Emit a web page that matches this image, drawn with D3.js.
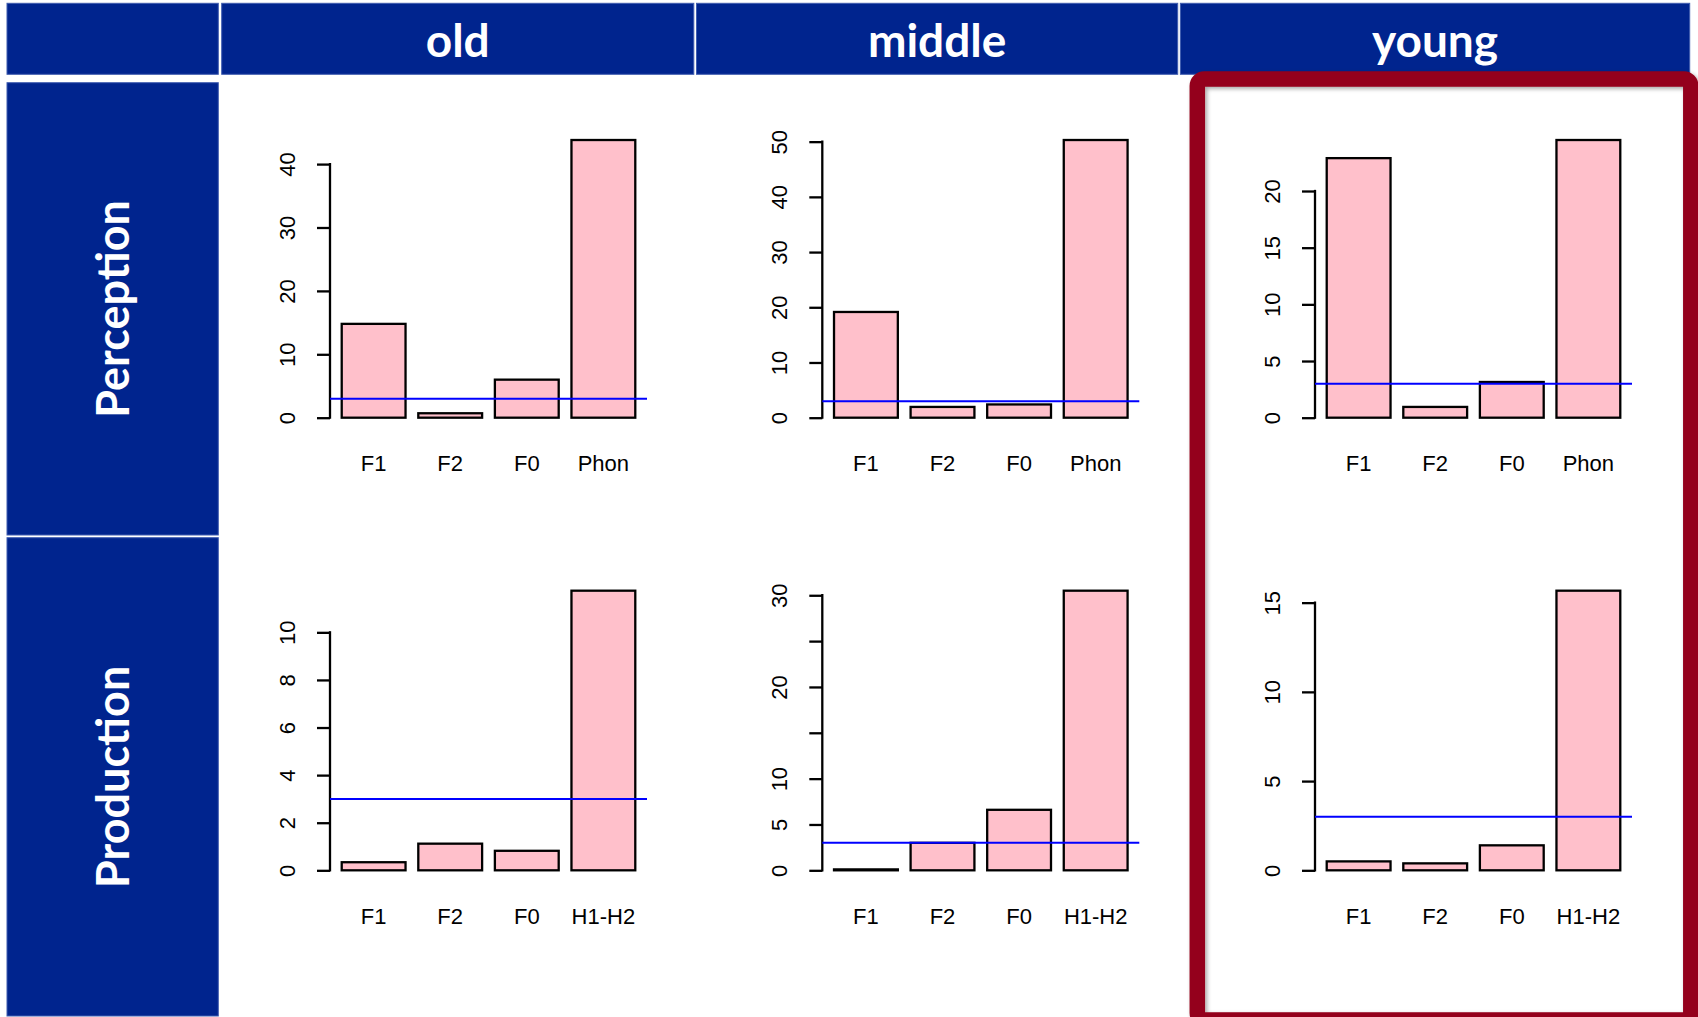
<!DOCTYPE html>
<html>
<head>
<meta charset="utf-8">
<script src="https://cdn.jsdelivr.net/npm/d3@7"></script>
<style>
  html, body { margin: 0; padding: 0; background: #ffffff; }
  svg { display: block; }
</style>
</head>
<body>
<svg id="chart" width="1698" height="1017"></svg>
<script>
// Age groups (columns) and tasks (rows)
const ageGroups = ["old", "middle", "young"];
const tasks = ["Perception", "Production"];

// Acoustic cues per task
const perceptionCues = ["F1", "F2", "F0", "Phon"];
const productionCues = ["F1", "F2", "F0", "H1-H2"];

// Bar heights per panel
const perceptionOld = [14.8, 0.7, 6.0, 43.8];
const perceptionMiddle = [19.15, 1.95, 2.4, 50.3];
const perceptionYoung = [22.9, 0.95, 3.15, 24.5];
const productionOld = [0.34, 1.12, 0.82, 11.75];
const productionMiddle = [0.1, 3.0, 6.6, 30.5];
const productionYoung = [0.5, 0.39, 1.4, 15.67];

// Reference line drawn across every panel
const threshold = 3;

// Y-axis ticks and the subset of ticks that carry a label
const ticksPerceptionOld = [0, 10, 20, 30, 40];
const ticksPerceptionMiddle = [0, 10, 20, 30, 40, 50];
const ticksPerceptionYoung = [0, 5, 10, 15, 20];
const ticksProductionOld = [0, 2, 4, 6, 8, 10];
const ticksProductionMiddle = [0, 5, 10, 15, 20, 25, 30];
const labelsProductionMiddle = [0, 5, 10, 20, 30];
const ticksProductionYoung = [0, 5, 10, 15];

const panels = [
  { row: 0, col: 0, cues: perceptionCues, values: perceptionOld, ticks: ticksPerceptionOld },
  { row: 0, col: 1, cues: perceptionCues, values: perceptionMiddle, ticks: ticksPerceptionMiddle },
  { row: 0, col: 2, cues: perceptionCues, values: perceptionYoung, ticks: ticksPerceptionYoung },
  { row: 1, col: 0, cues: productionCues, values: productionOld, ticks: ticksProductionOld },
  { row: 1, col: 1, cues: productionCues, values: productionMiddle, ticks: ticksProductionMiddle, labels: labelsProductionMiddle },
  { row: 1, col: 2, cues: productionCues, values: productionYoung, ticks: ticksProductionYoung }
];

// ---- layout ----
const navy = "#00248e";
const navyEdge = "#3f5cb0";
const frameRed = "#94001b";
const headerY = [3.3, 74.3];
const headerCols = [[7, 218.3], [221.7, 693.8], [696.5, 1177.7], [1180.4, 1689.7]];
const rowLabelX = [7, 218.3];
const rowCells = [[82.7, 535], [537.7, 1016]];
const panelAxisX = [330, 822.3, 1315];
const panelWidth = 317;
const panelRegion = [{ top: 128.9, bottom: 428.8 }, { top: 579.5, bottom: 881.5 }];
const labelFont = "'Liberation Sans', Arial, sans-serif";
const titleFont = "Lato, 'Open Sans', sans-serif";

const svg = d3.select("#chart");

const defs = svg.append("defs");
const shadow = defs.append("filter").attr("id", "frameShadow")
  .attr("x", "-5%").attr("y", "-5%").attr("width", "110%").attr("height", "110%");
shadow.append("feDropShadow")
  .attr("dx", 2).attr("dy", 2).attr("stdDeviation", 2.2)
  .attr("flood-color", "#000").attr("flood-opacity", 0.35);

// Column header strip
const headerG = svg.append("g");
headerG.selectAll("rect").data(headerCols).join("rect")
  .attr("x", d => d[0]).attr("y", headerY[0])
  .attr("width", d => d[1] - d[0]).attr("height", headerY[1] - headerY[0])
  .attr("fill", navy).attr("stroke", navyEdge).attr("stroke-width", 1);
headerG.selectAll("text").data(ageGroups).join("text")
  .attr("x", (d, i) => (headerCols[i + 1][0] + headerCols[i + 1][1]) / 2)
  .attr("y", 57.3)
  .attr("text-anchor", "middle")
  .attr("fill", "#ffffff")
  .attr("font-family", titleFont).attr("font-weight", 700).attr("font-size", 46)
  .text(d => d);

// Row label strip
const rowG = svg.append("g");
rowG.selectAll("rect").data(rowCells).join("rect")
  .attr("x", rowLabelX[0]).attr("y", d => d[0])
  .attr("width", rowLabelX[1] - rowLabelX[0]).attr("height", d => d[1] - d[0])
  .attr("fill", navy).attr("stroke", navyEdge).attr("stroke-width", 1);
rowG.selectAll("text").data(tasks).join("text")
  .attr("transform", (d, i) => `translate(129,${(rowCells[i][0] + rowCells[i][1]) / 2}) rotate(-90)`)
  .attr("text-anchor", "middle")
  .attr("fill", "#ffffff")
  .attr("font-family", titleFont).attr("font-weight", 700).attr("font-size", 45)
  .text(d => d);

// Bar panels
panels.forEach(p => {
  const ax = panelAxisX[p.col];
  const reg = panelRegion[p.row];
  const maxVal = d3.max(p.values);

  const x = d3.scaleBand().domain(p.cues)
    .range([ax, ax + panelWidth])
    .paddingInner(1 / 6).paddingOuter(0.153);
  const y = d3.scaleLinear()
    .domain([-0.04 * maxVal, 1.04 * maxVal])
    .range([reg.bottom, reg.top]);

  const g = svg.append("g");

  g.selectAll("rect.bar").data(p.values).join("rect")
    .attr("class", "bar")
    .attr("x", (d, i) => x(p.cues[i]))
    .attr("width", x.bandwidth())
    .attr("y", d => y(d))
    .attr("height", d => y(0) - y(d))
    .attr("fill", "#ffc0cb")
    .attr("stroke", "#000").attr("stroke-width", 2.3);

  // y axis: line spans first to last tick only
  const labelSet = new Set(p.labels || p.ticks);
  const yAxis = d3.axisLeft(y)
    .tickValues(p.ticks)
    .tickSize(13)
    .tickFormat(d => labelSet.has(d) ? String(d) : "");
  const ag = g.append("g").attr("transform", `translate(${ax},0)`).call(yAxis);
  ag.select(".domain").remove();
  ag.selectAll(".tick line").attr("stroke", "#000").attr("stroke-width", 2.3);
  ag.selectAll(".tick text")
    .attr("transform", "rotate(-90)")
    .attr("x", 0).attr("y", -35).attr("dy", 0)
    .attr("text-anchor", "middle")
    .attr("fill", "#000")
    .attr("font-family", labelFont).attr("font-size", 22);
  ag.append("line")
    .attr("x1", 0).attr("x2", 0)
    .attr("y1", y(p.ticks[0])).attr("y2", y(p.ticks[p.ticks.length - 1]))
    .attr("stroke", "#000").attr("stroke-width", 2.3).attr("stroke-linecap", "square");

  // category labels under the bars
  const xAxis = d3.axisBottom(x).tickSize(0);
  const xg = g.append("g").attr("transform", `translate(0,${reg.bottom})`).call(xAxis);
  xg.select(".domain").remove();
  xg.selectAll(".tick text")
    .attr("y", 42).attr("dy", 0)
    .attr("fill", "#000")
    .attr("font-family", labelFont).attr("font-size", 22);

  // threshold line across the plot region
  g.append("line")
    .attr("x1", ax).attr("x2", ax + panelWidth)
    .attr("y1", y(threshold)).attr("y2", y(threshold))
    .attr("stroke", "#0000ff").attr("stroke-width", 2);
});

// Highlight frame around the "young" column
svg.append("rect")
  .attr("x", 1197.3).attr("y", 79)
  .attr("width", 493.5).attr("height", 941)
  .attr("rx", 7).attr("ry", 7)
  .attr("fill", "none")
  .attr("stroke", frameRed).attr("stroke-width", 15.5)
  .attr("filter", "url(#frameShadow)");
</script>
</body>
</html>
